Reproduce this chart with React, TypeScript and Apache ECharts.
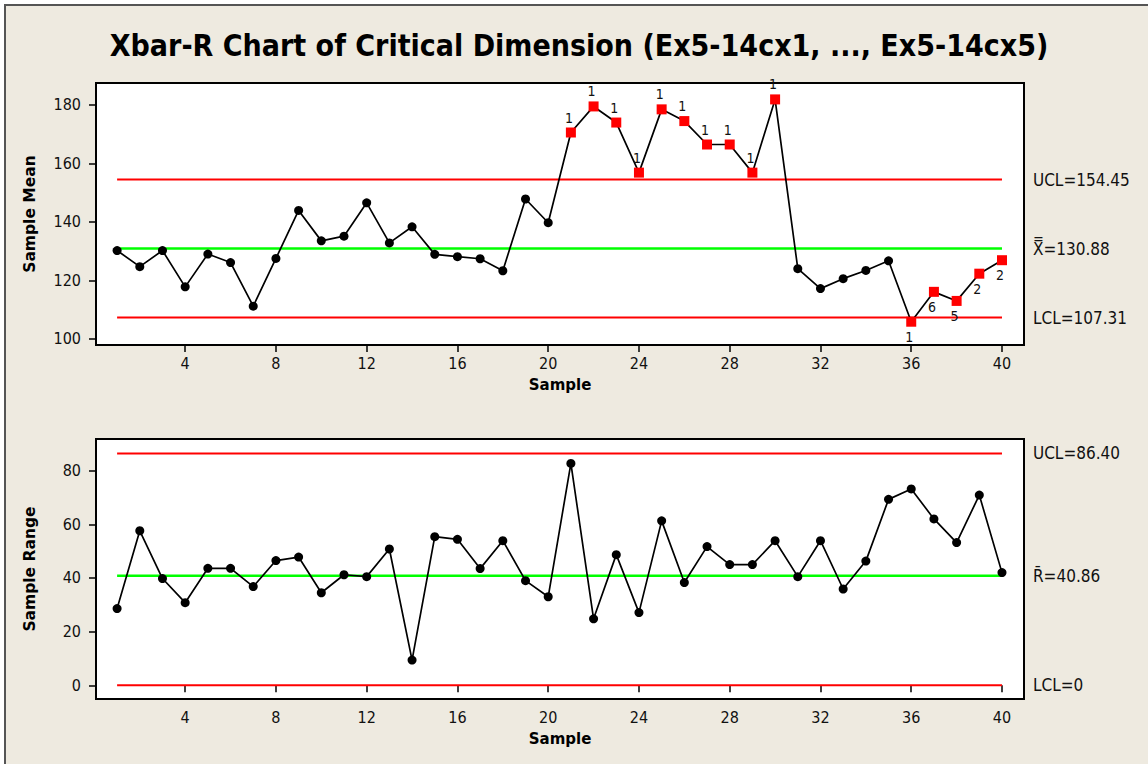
import React, { useEffect, useRef } from "react";
import * as echarts from "echarts";

const TITLE = "Xbar-R Chart of Critical Dimension (Ex5-14cx1, ..., Ex5-14cx5)";

const samples = [
  1, 2, 3, 4, 5, 6, 7, 8, 9, 10, 11, 12, 13, 14, 15, 16, 17, 18, 19, 20,
  21, 22, 23, 24, 25, 26, 27, 28, 29, 30, 31, 32, 33, 34, 35, 36, 37, 38, 39, 40,
];

const sampleMeans = [
  130.2, 124.7, 130.2, 117.8, 129.0, 126.1, 111.2, 127.5, 143.9, 133.5,
  135.1, 146.5, 132.8, 138.3, 128.9, 128.1, 127.4, 123.3, 147.8, 139.7,
  170.5, 179.4, 173.9, 156.8, 178.4, 174.4, 166.4, 166.4, 156.8, 181.8,
  124.0, 117.2, 120.6, 123.4, 126.7, 105.9, 116.1, 113.0, 122.3, 126.9,
];

// Minitab test-failure flags for the means chart ("" = in control)
const meanFlags = [
  "", "", "", "", "", "", "", "", "", "",
  "", "", "", "", "", "", "", "", "", "",
  "1", "1", "1", "1", "1", "1", "1", "1", "1", "1",
  "", "", "", "", "", "1", "6", "5", "2", "2",
];
// where each flag's number sits relative to its point
const meanFlagSides = [
  "", "", "", "", "", "", "", "", "", "",
  "", "", "", "", "", "", "", "", "", "",
  "top", "top", "top", "top", "top", "top", "top", "top", "top", "top",
  "", "", "", "", "", "bottom", "bottom", "bottom", "bottom", "bottom",
];

const sampleRanges = [
  28.6, 57.6, 39.8, 30.8, 43.6, 43.6, 36.8, 46.5, 47.8, 34.5,
  41.2, 40.5, 50.8, 9.4, 55.4, 54.4, 43.5, 53.9, 39.0, 33.0,
  82.7, 24.8, 48.7, 27.1, 61.3, 38.3, 51.7, 45.0, 45.0, 53.9,
  40.5, 53.9, 35.9, 46.3, 69.3, 73.2, 62.0, 53.2, 70.9, 42.0,
];

const meanLimits = { UCL: 154.45, CL: 130.88, LCL: 107.31 };
const rangeLimits = { UCL: 86.4, CL: 40.86, LCL: 0 };

const meanLimitLabels = ["UCL=154.45", "X\u033F=130.88", "LCL=107.31"];
const rangeLimitLabels = ["UCL=86.40", "R\u0304=40.86", "LCL=0"];

const xTicks = [4, 8, 12, 16, 20, 24, 28, 32, 36, 40];
const meanTicks = [100, 120, 140, 160, 180];
const rangeTicks = [0, 20, 40, 60, 80];

const FONT = '"DejaVu Sans Condensed", "DejaVu Sans", Tahoma, sans-serif';
const BOLD_FONT = '"DejaVu Sans", Tahoma, sans-serif';
const RED = "#ff0000";
const GREEN = "#00ff00";

function App() {
  const ref = useRef<HTMLDivElement>(null);

  useEffect(() => {
    if (!ref.current) return;
    const chart = echarts.init(ref.current, null, { renderer: "svg" });

    const first = samples[0];
    const last = samples[samples.length - 1];

    const limitSeries = (vals: number[], labels: string[], idx: number) =>
      vals.map((v, k) => ({
        type: "line",
        xAxisIndex: idx,
        yAxisIndex: idx,
        data: [
          [first, v],
          [last, v],
        ],
        symbol: "none",
        silent: true,
        lineStyle: { color: k === 1 ? GREEN : RED, width: k === 1 ? 2.4 : 2 },
        endLabel: {
          show: true,
          formatter: labels[k],
          distance: 31,
          color: "#111",
          fontSize: 17,
          fontFamily: FONT,
        },
        z: 1,
      }));

    const axisCommonX = (idx: number) => ({
      type: "value",
      gridIndex: idx,
      min: 0.07,
      max: 40.97,
      splitLine: { show: false },
      axisLine: { show: false },
      axisTick: {
        show: true,
        customValues: xTicks,
        length: 7,
        lineStyle: { color: "#000", width: 1.5 },
      },
      axisLabel: {
        customValues: xTicks,
        color: "#111",
        fontSize: 16,
        fontFamily: FONT,
        margin: 10,
      },
      name: "Sample",
      nameLocation: "middle",
      nameGap: 32,
      nameTextStyle: {
        fontWeight: "bold",
        fontSize: 15,
        color: "#000",
        fontFamily: BOLD_FONT,
      },
    });

    const axisCommonY = (
      idx: number,
      min: number,
      max: number,
      ticks: number[],
      name: string
    ) => ({
      type: "value",
      gridIndex: idx,
      min,
      max,
      splitLine: { show: false },
      axisLine: { show: false },
      axisTick: {
        show: true,
        customValues: ticks,
        length: 7,
        lineStyle: { color: "#000", width: 1.5 },
      },
      axisLabel: {
        customValues: ticks,
        color: "#111",
        fontSize: 16,
        fontFamily: FONT,
        margin: 15,
      },
      name,
      nameLocation: "middle",
      nameGap: 58,
      nameTextStyle: {
        fontWeight: "bold",
        fontSize: 15.5,
        color: "#000",
        fontFamily: BOLD_FONT,
      },
    });

    const meanData = samples.map((s, i) => {
      const f = meanFlags[i];
      if (!f) return { value: [s, sampleMeans[i]] };
      return {
        value: [s, sampleMeans[i]],
        symbol: "rect",
        symbolSize: 10,
        itemStyle: { color: RED },
        label: {
          show: true,
          formatter: f,
          position: meanFlagSides[i],
          distance: 3,
          offset: [-2, 0],
          color: "#111",
          fontSize: 14,
          fontFamily: FONT,
        },
      };
    });

    const rangeData = samples.map((s, i) => [s, sampleRanges[i]]);

    chart.setOption({
      animation: false,
      backgroundColor: "transparent",
      textStyle: { fontFamily: FONT },
      graphic: [
        {
          type: "text",
          x: 579,
          y: 45,
          style: {
            text: TITLE,
            align: "center",
            verticalAlign: "middle",
            fontSize: 30,
            fontWeight: "bold",
            fontFamily: FONT,
            fill: "#000",
          },
        },
      ],
      grid: [
        {
          left: 96,
          top: 83,
          width: 928,
          height: 262,
          show: true,
          backgroundColor: "#fff",
          borderColor: "#000",
          borderWidth: 2,
        },
        {
          left: 96,
          top: 439,
          width: 928,
          height: 260,
          show: true,
          backgroundColor: "#fff",
          borderColor: "#000",
          borderWidth: 2,
        },
      ],
      xAxis: [axisCommonX(0), axisCommonX(1)],
      yAxis: [
        axisCommonY(0, 97.95, 187.4, meanTicks, "Sample Mean"),
        axisCommonY(1, -5.1, 91.8, rangeTicks, "Sample Range"),
      ],
      series: [
        ...limitSeries(
          [meanLimits.UCL, meanLimits.CL, meanLimits.LCL],
          meanLimitLabels,
          0
        ),
        ...limitSeries(
          [rangeLimits.UCL, rangeLimits.CL, rangeLimits.LCL],
          rangeLimitLabels,
          1
        ),
        {
          type: "line",
          xAxisIndex: 0,
          yAxisIndex: 0,
          data: meanData,
          symbol: "circle",
          symbolSize: 9,
          showAllSymbol: true,
          itemStyle: { color: "#000" },
          lineStyle: { color: "#000", width: 1.7 },
          z: 3,
        },
        {
          type: "line",
          xAxisIndex: 1,
          yAxisIndex: 1,
          data: rangeData,
          symbol: "circle",
          symbolSize: 9,
          showAllSymbol: true,
          itemStyle: { color: "#000" },
          lineStyle: { color: "#000", width: 1.7 },
          z: 3,
        },
      ],
    });

    return () => chart.dispose();
  }, []);

  return (
    <div
      style={{
        position: "fixed",
        left: 0,
        top: 0,
        width: 1148,
        height: 764,
        background: "#fff",
        overflow: "hidden",
      }}
    >
      <div
        style={{
          position: "absolute",
          left: 4,
          top: 4,
          width: 1200,
          height: 800,
          background: "#eeeae0",
          border: "2px solid #555",
        }}
      />
      <div
        ref={ref}
        style={{ position: "absolute", left: 0, top: 0, width: 1148, height: 764 }}
      />
    </div>
  );
}

export default App;
